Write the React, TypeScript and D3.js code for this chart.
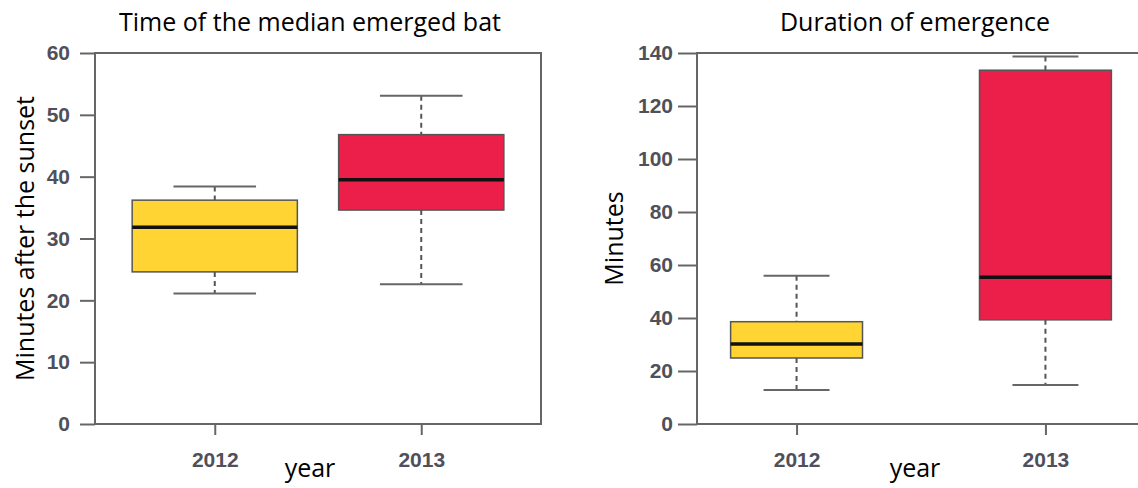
import { useEffect, useRef } from "react";
import * as d3 from "d3";

// data
const years = ["2012", "2013"];
// [lower whisker, Q1, median, Q3, upper whisker]
const emergenceTimeStats = [
  [21.1, 24.6, 31.8, 36.2, 38.4],
  [22.6, 34.6, 39.5, 46.8, 53.1],
];
const durationStats = [
  [12.8, 24.9, 30.2, 38.6, 55.9],
  [14.7, 39.3, 55.4, 133.5, 138.7],
];
const emergenceTimeTicks = [0, 10, 20, 30, 40, 50, 60];
const durationTicks = [0, 20, 40, 60, 80, 100, 120, 140];
const boxColors = ["#FFD433", "#EC1F4A"];

type Panel = {
  title: string;
  yLabel: string;
  stats: number[][];
  ticks: number[];
  yMax: number;
  left: number;
  right: number;
  xDomain: [number, number];
  boxWidth: number;
  titleX: number;
  yLabelX: number;
  tickLen: number;
  labelGap: number;
};

const panels: Panel[] = [
  {
    title: "Time of the median emerged bat",
    yLabel: "Minutes after the sunset",
    stats: emergenceTimeStats,
    ticks: emergenceTimeTicks,
    yMax: 60,
    left: 95,
    right: 541,
    xDomain: [0.42, 2.58],
    boxWidth: 0.8,
    titleX: 310,
    yLabelX: 34,
    tickLen: 15,
    labelGap: 10,
  },
  {
    title: "Duration of emergence",
    yLabel: "Minutes",
    stats: durationStats,
    ticks: durationTicks,
    yMax: 140,
    left: 697,
    right: 1145,
    xDomain: [0.6, 2.4],
    boxWidth: 0.53,
    titleX: 915,
    yLabelX: 623,
    tickLen: 19,
    labelGap: 5,
  },
];

const W = 1138;
const H = 488;
const top = 53;
const bottom = 424;
const labelFont = "'Open Sans', sans-serif";
const tickFont = "'Liberation Sans', Arial, sans-serif";

export default function App() {
  const ref = useRef<SVGSVGElement | null>(null);

  useEffect(() => {
    if (!ref.current) return;
    const svg = d3.select(ref.current);
    svg.selectAll("*").remove();

    for (const p of panels) {
      const x = d3.scaleLinear().domain(p.xDomain).range([p.left, p.right]);
      const y = d3.scaleLinear().domain([0, p.yMax]).range([bottom, top]);
      const g = svg.append("g");

      // title
      g.append("text")
        .attr("x", p.titleX)
        .attr("y", 31)
        .attr("text-anchor", "middle")
        .attr("font-family", labelFont)
        .attr("font-size", 25)
        .attr("fill", "#000")
        .text(p.title);

      // y label
      g.append("text")
        .attr("transform", `translate(${p.yLabelX},${(top + bottom) / 2}) rotate(-90)`)
        .attr("text-anchor", "middle")
        .attr("font-family", labelFont)
        .attr("font-size", 25)
        .attr("fill", "#000")
        .text(p.yLabel);

      // x label
      g.append("text")
        .attr("x", p.titleX)
        .attr("y", 477)
        .attr("text-anchor", "middle")
        .attr("font-family", labelFont)
        .attr("font-size", 25)
        .attr("fill", "#000")
        .text("year");

      // y axis
      const yAxis = g.append("g").attr("transform", `translate(${p.left},0)`)
        .call(d3.axisLeft(y).tickValues(p.ticks).tickSize(p.tickLen).tickPadding(p.labelGap).tickSizeOuter(0));
      yAxis.select(".domain").remove();
      yAxis.selectAll("line").attr("stroke", "#666").attr("stroke-width", 2);
      yAxis.selectAll("text")
        .attr("font-family", tickFont)
        .attr("font-weight", "bold")
        .attr("font-size", 21)
        .attr("fill", "#50505a");

      // x axis
      const xAxis = g.append("g").attr("transform", `translate(0,${bottom})`)
        .call(d3.axisBottom(x).tickValues([1, 2]).tickFormat((_, i) => years[i]).tickSize(11).tickPadding(17).tickSizeOuter(0));
      xAxis.select(".domain").remove();
      xAxis.selectAll("line").attr("stroke", "#666").attr("stroke-width", 2);
      xAxis.selectAll("text")
        .attr("font-family", tickFont)
        .attr("font-weight", "bold")
        .attr("font-size", 21)
        .attr("fill", "#50505a");

      // boxes
      p.stats.forEach((s, i) => {
        const cx = x(i + 1);
        const bw = x(p.xDomain[0] + p.boxWidth) - x(p.xDomain[0]);
        const [lo, q1, med, q3, hi] = s;
        const bx = g.append("g");
        // whiskers
        bx.append("line")
          .attr("x1", cx).attr("x2", cx).attr("y1", y(hi)).attr("y2", y(q3))
          .attr("stroke", "#555").attr("stroke-width", 2).attr("stroke-dasharray", "5,4");
        bx.append("line")
          .attr("x1", cx).attr("x2", cx).attr("y1", y(q1)).attr("y2", y(lo))
          .attr("stroke", "#555").attr("stroke-width", 2).attr("stroke-dasharray", "5,4");
        // caps
        for (const v of [lo, hi]) {
          bx.append("line")
            .attr("x1", cx - bw / 4).attr("x2", cx + bw / 4)
            .attr("y1", y(v)).attr("y2", y(v))
            .attr("stroke", "#666").attr("stroke-width", 2);
        }
        bx.append("rect")
          .attr("x", cx - bw / 2).attr("width", bw)
          .attr("y", y(q3)).attr("height", y(q1) - y(q3))
          .attr("fill", boxColors[i]).attr("stroke", "#555").attr("stroke-width", 1.5);
        bx.append("line")
          .attr("x1", cx - bw / 2).attr("x2", cx + bw / 2)
          .attr("y1", y(med)).attr("y2", y(med))
          .attr("stroke", "#111").attr("stroke-width", 3.5);
      });

      // frame
      g.append("rect")
        .attr("x", p.left).attr("y", top)
        .attr("width", p.right - p.left).attr("height", bottom - top)
        .attr("fill", "none").attr("stroke", "#666").attr("stroke-width", 2);
    }
  }, []);

  return (
    <svg
      ref={ref}
      width={W}
      height={H}
      style={{ position: "absolute", left: 0, top: 0, background: "#fff" }}
    />
  );
}
